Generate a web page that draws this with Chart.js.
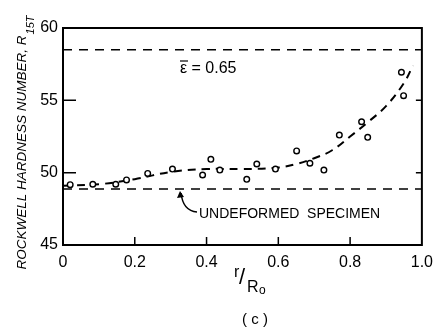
<!DOCTYPE html>
<html>
<head>
<meta charset="utf-8">
<script src="https://cdn.jsdelivr.net/npm/chart.js@4.4.0/dist/chart.umd.min.js"></script>
<style>
  html, body { margin: 0; padding: 0; background: #fff; }
</style>
</head>
<body>
<canvas id="c" width="441" height="335"></canvas>
<script>
// measured points (r/Ro, hardness)
var rMeasured = [0.02, 0.083, 0.147, 0.177, 0.236, 0.305, 0.389, 0.412, 0.437, 0.512, 0.54, 0.592, 0.651, 0.688, 0.727, 0.77, 0.832, 0.849, 0.943, 0.949];
var hMeasured = [49.17, 49.2, 49.2, 49.5, 49.95, 50.25, 49.84, 50.92, 50.18, 49.54, 50.6, 50.25, 51.5, 50.65, 50.18, 52.6, 53.52, 52.44, 56.94, 55.32];

// fitted dashed curve
var rFit = [0, 0.1, 0.2, 0.3, 0.4, 0.5, 0.6, 0.65, 0.7, 0.75, 0.8, 0.85, 0.9, 0.95, 0.975];
var hFit = [49.1, 49.2, 49.55, 50.05, 50.25, 50.25, 50.35, 50.6, 51.0, 51.55, 52.5, 53.5, 54.6, 56.2, 57.4];

// reference levels
var deformedLevel = 58.5;    // e = 0.65
var undeformedLevel = 48.87;

var xTicks = [0, 0.2, 0.4, 0.6, 0.8, 1.0];
var yTicks = [45, 50, 55, 60];

var FONT = "'Liberation Sans', Arial, sans-serif";

function pts(xs, ys) {
  return xs.map(function (x, i) { return { x: x, y: ys[i] }; });
}

var extras = {
  id: 'extras',
  afterDraw: function (chart) {
    var ctx = chart.ctx, a = chart.chartArea;
    var xs = chart.scales.x, ys = chart.scales.y;
    ctx.save();
    ctx.strokeStyle = '#000';
    ctx.fillStyle = '#000';

    // frame
    ctx.lineWidth = 2;
    ctx.strokeRect(a.left, a.top, a.right - a.left, a.bottom - a.top);

    // inward ticks
    ctx.lineWidth = 1.5;
    ctx.beginPath();
    yTicks.forEach(function (v) {
      var y = ys.getPixelForValue(v);
      ctx.moveTo(a.left, y); ctx.lineTo(a.left + 13, y);
      if (v > 45 && v < 60) { ctx.moveTo(a.right, y); ctx.lineTo(a.right - 6, y); }
    });
    xTicks.forEach(function (v) {
      if (v <= 0 || v >= 1) return;
      var x = xs.getPixelForValue(v);
      ctx.moveTo(x, a.bottom); ctx.lineTo(x, a.bottom - 8);
    });
    ctx.stroke();

    // e-bar label
    ctx.font = '16px ' + FONT;
    ctx.textBaseline = 'alphabetic';
    ctx.textAlign = 'left';
    ctx.fillText('\u03B5 = 0.65', 180, 73);
    ctx.lineWidth = 1.2;
    ctx.beginPath(); ctx.moveTo(180, 61); ctx.lineTo(188, 61); ctx.stroke();

    // undeformed label and arrow
    ctx.font = '14px ' + FONT;
    ctx.fillText('UNDEFORMED  SPECIMEN', 199, 218);
    ctx.lineWidth = 1.5;
    ctx.beginPath();
    ctx.moveTo(197, 212);
    ctx.quadraticCurveTo(183, 211, 181, 193);
    ctx.stroke();
    ctx.beginPath();
    ctx.moveTo(180, 191); ctx.lineTo(177, 198); ctx.lineTo(184, 197); ctx.closePath();
    ctx.fill();

    // x axis title r/Ro
    ctx.font = '16px ' + FONT;
    ctx.fillText('r', 234, 277);
    ctx.font = '22px ' + FONT;
    ctx.fillText('/', 239, 284);
    ctx.font = '16px ' + FONT;
    ctx.fillText('R', 247, 292);
    ctx.font = '12px ' + FONT;
    ctx.fillText('o', 259, 294);

    // panel label
    ctx.font = '15px ' + FONT;
    ctx.textAlign = 'center';
    ctx.fillText('( c )', 255, 324);

    // y axis title with subscript
    ctx.translate(26, 143);
    ctx.rotate(-Math.PI / 2);
    var main = 'ROCKWELL HARDNESS NUMBER, R';
    var sub = '15T';
    ctx.font = 'italic 13.5px ' + FONT;
    var w1 = ctx.measureText(main).width;
    ctx.font = 'italic 11px ' + FONT;
    var w2 = ctx.measureText(sub).width;
    var x0 = -(w1 + w2) / 2;
    ctx.textAlign = 'left';
    ctx.font = 'italic 13.5px ' + FONT;
    ctx.fillText(main, x0, 0);
    ctx.font = 'italic 11px ' + FONT;
    ctx.fillText(sub, x0 + w1 + 1, 8);
    ctx.restore();
  }
};

new Chart(document.getElementById('c'), {
  type: 'scatter',
  data: {
    datasets: [
      {
        label: 'measured',
        data: pts(rMeasured, hMeasured),
        pointStyle: 'circle',
        pointRadius: 2.8,
        pointBorderWidth: 1.4,
        pointBorderColor: '#000',
        pointBackgroundColor: '#fff',
        showLine: false,
        order: 0
      },
      {
        label: 'fit',
        data: pts(rFit, hFit),
        showLine: true,
        borderColor: '#000',
        borderWidth: 2,
        borderDash: [8, 6],
        tension: 0.4,
        pointRadius: 0,
        order: 1
      },
      {
        label: 'deformed',
        data: pts([0, 1], [deformedLevel, deformedLevel]),
        showLine: true,
        borderColor: '#000',
        borderWidth: 1.4,
        borderDash: [9, 7],
        pointRadius: 0,
        order: 2
      },
      {
        label: 'undeformed',
        data: pts([0, 1], [undeformedLevel, undeformedLevel]),
        showLine: true,
        borderColor: '#000',
        borderWidth: 1.4,
        borderDash: [9, 7],
        pointRadius: 0,
        order: 2
      }
    ]
  },
  options: {
    responsive: false,
    animation: false,
    layout: { padding: { left: 0, right: 13, top: 28, bottom: 0 } },
    plugins: { legend: { display: false }, tooltip: { enabled: false } },
    scales: {
      x: {
        type: 'linear',
        min: 0, max: 1,
        afterFit: function (s) { s.height = 90; },
        afterBuildTicks: function (s) { s.ticks = xTicks.map(function (v) { return { value: v }; }); },
        grid: { display: false, drawTicks: false },
        border: { display: false },
        ticks: {
          color: '#000',
          padding: 8,
          font: { family: FONT, size: 16 },
          callback: function (v) { return v === 0 ? '0' : v.toFixed(1); }
        }
      },
      y: {
        type: 'linear',
        min: 45, max: 60,
        afterFit: function (s) { s.width = 63; },
        afterBuildTicks: function (s) { s.ticks = yTicks.map(function (v) { return { value: v }; }); },
        grid: { display: false, drawTicks: false },
        border: { display: false },
        ticks: {
          color: '#000',
          padding: 5,
          font: { family: FONT, size: 16 }
        }
      }
    }
  },
  plugins: [extras]
});
</script>
</body>
</html>
